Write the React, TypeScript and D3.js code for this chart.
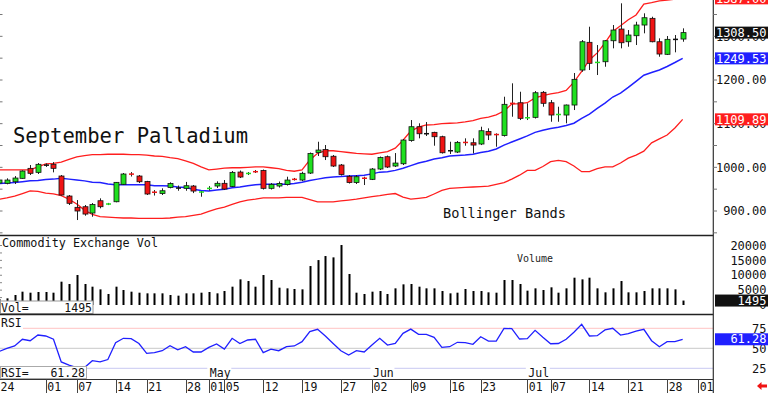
import React from 'react';
import * as d3 from 'd3';

// trading calendar: weekdays from Mar 24 to Aug 1 2025, exchange holidays removed
const holidays = ['2025-04-18', '2025-05-26', '2025-06-19', '2025-07-04'];
const firstDay = '2025-03-24';
const lastAxisDay = '2025-08-01';

const tickDays = [
  '2025-03-24', '2025-04-01', '2025-04-07', '2025-04-14', '2025-04-21', '2025-04-28',
  '2025-05-01', '2025-05-05', '2025-05-12', '2025-05-19', '2025-05-27', '2025-06-02',
  '2025-06-09', '2025-06-16', '2025-06-23', '2025-07-01', '2025-07-07', '2025-07-14',
  '2025-07-21', '2025-07-28', '2025-08-01',
];
const monthDays = ['2025-05-01', '2025-06-02', '2025-07-01'];
const monthNames = ['May', 'Jun', 'Jul'];

const open = [964, 963.4, 967, 974.8, 997.7, 988.5, 1005, 1006.9, 980.1, 934.3,
  908.4, 909.8, 895.3, 923.5, 915, 921.2, 961.1, 985, 980.1, 967.5,
  943.5, 940, 953.7, 952.5, 951.9, 957.2, 943, 951, 957.2, 963.4,
  956, 989.2, 985.5, 990.5, 992.7, 951.9, 957.2, 960.6, 973, 970.9,
  986.9, 1033.9, 1040.8, 1025.4, 1005.3, 979.4, 965.2, 975.5, 972.5, 996.1,
  1024.3, 1003, 1008.2, 1061.4, 1093, 1077, 1080.1, 1070.1, 1038, 1035,
  1057.5, 1056.3, 1053.4, 1082, 1075.6, 1072.8, 1147, 1147.9, 1113, 1114.5,
  1171.8, 1147.9, 1120.5, 1119.8, 1142.7, 1222.8, 1286.3, 1239.5, 1241.8, 1289.9,
  1316.7, 1287.6, 1301.4, 1325.9, 1341.2, 1287.6, 1258.8, 1293, 1293.8];

const high = [975, 974.8, 980, 993, 1005.3, 1009.8, 1009, 1012, 982.4, 936.6,
  925.1, 913.7, 918.2, 929, 918.5, 966.3, 987, 989.2, 982.4, 969,
  948, 951.9, 965.6, 958.3, 966.6, 959.5, 945.7, 957, 968, 970.9,
  991.5, 992.7, 989.2, 993.8, 994.9, 964, 967.5, 978.5, 975.7, 989.9,
  1033.9, 1058.6, 1051.1, 1028.2, 1007.6, 982.4, 982.4, 978.5, 998.4, 1024.7,
  1027, 1032.7, 1064.8, 1108.3, 1100.8, 1103.7, 1081.5, 1072.4, 1058.6, 1060.2,
  1066.4, 1066.4, 1093, 1089.3, 1077.9, 1161.7, 1192.4, 1173.1, 1146.6, 1174.7,
  1174.7, 1154.1, 1138.8, 1143.8, 1216, 1291.5, 1322, 1280.1, 1291.5, 1325.9,
  1375.6, 1314.4, 1333.4, 1352.7, 1344.9, 1295.4, 1300.7, 1303, 1318.3];

const low = [960, 961.1, 961.8, 974, 982.4, 984.7, 1001, 988.5, 935.4, 913.7,
  879.3, 889.2, 886.9, 906.1, 913.5, 919.9, 959.5, 979, 964, 936.6,
  935.4, 936.6, 951.9, 946.4, 946.4, 941, 932.7, 946.8, 952.6, 948,
  954.9, 975.5, 982.4, 987, 949.2, 949.2, 953.7, 958.3, 969.8, 968.6,
  984.7, 1025.9, 1016.7, 1000.7, 981.2, 962.9, 961.8, 959.5, 970.9, 993.8,
  998.4, 1000.7, 1005.3, 1058.6, 1066.4, 1071.7, 1049.5, 1031.6, 1030.5, 1032.7,
  1049.5, 1032, 1051, 1062.5, 1047.2, 1070.5, 1115.9, 1108.3, 1108.3, 1111.8,
  1138.8, 1104.4, 1104.4, 1100.8, 1131.2, 1218.9, 1222.8, 1211.4, 1230.4, 1272.5,
  1272.5, 1276.2, 1280.1, 1306.9, 1286.3, 1253.3, 1257.2, 1263.4, 1287.6];

const close = [971, 970.9, 975.5, 991.5, 986.3, 1006.9, 1005, 997.7, 936.6, 917.6,
  900, 893, 914.8, 909.8, 917, 965.6, 984.7, 984, 967, 938.9,
  942.5, 946.4, 962.9, 952.5, 957.9, 945.7, 944, 952.5, 963.4, 950.3,
  988.5, 977.8, 986.5, 989.5, 951.9, 961.1, 962.9, 970.9, 972, 986.3,
  1031.6, 1039.6, 1024.3, 1003, 983.5, 965.2, 978.5, 974.5, 996.1, 1022.4,
  1000.7, 1009.8, 1062.5, 1093, 1076.9, 1077, 1070.1, 1033.4, 1038, 1057.2,
  1056.5, 1051, 1083.8, 1074, 1074.5, 1144.3, 1146, 1112.2, 1114, 1170.8,
  1146.6, 1119.8, 1121.5, 1142.7, 1201.5, 1287.6, 1238.2, 1241, 1289.9, 1314.4,
  1285.3, 1303, 1325.9, 1342.6, 1287.6, 1259.5, 1293.1, 1293, 1308.5];

const bbUpper = [994, 994, 994, 994, 994, 1001, 1008, 1009, 1012, 1018,
  1024, 1027, 1029, 1029, 1030, 1030, 1030, 1029, 1029, 1028,
  1026, 1025, 1022, 1020, 1015, 1009, 1001, 994, 996, 998,
  999, 999, 1000, 1001, 1001, 999, 997, 993, 991, 994,
  1017, 1032, 1038, 1038, 1036, 1034, 1032, 1031, 1030, 1033,
  1036, 1044, 1062, 1083, 1092, 1097, 1098, 1100, 1101, 1102,
  1104, 1107, 1112, 1115, 1120, 1129, 1145, 1146, 1148, 1159,
  1164, 1168, 1171, 1176, 1195, 1220, 1246, 1262, 1285, 1311,
  1324, 1338, 1349, 1374, 1377, 1381, 1383, 1385, 1387];

const bbMiddle = [963, 964, 965, 967, 969, 970, 972, 973, 975, 973,
  971, 969, 966, 965, 962, 960, 960, 960, 960, 960,
  958, 958, 957, 955, 954, 950, 947, 946, 948, 950,
  953, 955, 958, 960, 961, 961, 961, 961, 963, 966,
  970, 973, 976, 978, 979, 980, 981, 982, 985, 989,
  990, 993, 998, 1004, 1010, 1014, 1019, 1022, 1026, 1027,
  1028, 1030, 1034, 1037, 1042, 1051, 1058, 1065, 1072, 1080,
  1085, 1089, 1092, 1096, 1101, 1112, 1122, 1135, 1147, 1161,
  1170, 1183, 1197, 1211, 1217, 1223, 1231, 1240, 1249.53];

const bbLower = [927, 930, 934, 940, 946, 945, 941, 939, 935, 927,
  916, 902, 892, 887, 886, 885, 884, 884, 883, 883,
  883, 883, 884, 886, 887, 890, 893, 899, 905, 909,
  915, 921, 925, 927, 930, 930, 930, 931, 931, 931,
  926, 921, 921, 921, 923, 925, 927, 930, 933, 935,
  938, 940, 932, 927, 929, 931, 939, 947, 952, 953,
  954, 955, 956, 957, 961, 965, 973, 982, 993, 993,
  1002, 1013, 1016, 1013, 1003, 990, 990, 997, 1001, 1001,
  1010, 1021, 1028, 1037, 1056, 1065, 1074, 1090, 1109.89];

const volume = [2000, 2240, 3360, 4480, 4140, 4370, 4370, 4140, 7840, 7060,
  10080, 7060, 6160, 5260, 3700, 6160, 5040, 4480, 4140, 3920,
  3920, 3920, 3360, 3140, 3920, 3920, 4140, 4370, 3920, 4700,
  6160, 8620, 8060, 6160, 10080, 8400, 5820, 5600, 5380, 5260,
  13100, 15100, 16460, 16010, 20160, 10420, 4140, 3700, 4480, 4700,
  3700, 5600, 6940, 7060, 6160, 5600, 5600, 4700, 3920, 4140,
  5380, 4700, 4700, 4260, 4140, 8400, 8400, 7060, 4820, 5600,
  5040, 5940, 4140, 5600, 9180, 8620, 9180, 5600, 4260, 5600,
  8060, 4260, 4260, 4700, 5600, 5600, 5600, 5260, 1495];

const rsi = [46, 50, 52.9, 61.3, 59.5, 66.6, 65.4, 61.3, 33, 29,
  26, 26, 34.5, 33, 36, 57, 62.5, 62, 56, 43.7,
  44.5, 47, 53.3, 48, 52, 45.4, 45.4, 51.2, 55.4, 49,
  62.5, 56, 60.4, 61.3, 44.5, 49, 47, 52, 52.9, 58.3,
  70.8, 73.7, 65.4, 56, 47, 41.6, 47, 45.4, 54, 62.5,
  54, 56, 68.7, 74, 67.5, 67.5, 63.7, 51.2, 52, 57.5,
  57, 55, 64.5, 59, 59, 75, 74.5, 61.6, 62, 72.5,
  63.7, 55.7, 56, 61.3, 70, 80, 65.4, 65.8, 72.9, 75,
  66.6, 68.3, 71.6, 73.7, 59.5, 52, 58.3, 58.3, 61.28];

const priceLabels = [900, 1000, 1100, 1200, 1300];
const volumeLabels = [0, 5000, 10000, 15000, 20000];
const rsiLabels = [25, 50, 75];

const GREEN = '#1fe01f';
const RED = '#f01414';
const BLUE = '#2020ff';
const BAND_RED = '#ff1e1e';
const FONT = '"DejaVu Sans Mono", monospace';

const fmtDay = d3.timeFormat('%Y-%m-%d');
const parseDay = d3.timeParse('%Y-%m-%d');
const tradingDays = d3.timeDay
  .range(parseDay(firstDay), d3.timeDay.offset(parseDay(lastAxisDay), 1))
  .filter((d) => d.getDay() !== 0 && d.getDay() !== 6 && !holidays.includes(fmtDay(d)));
const dayIndex = (s: string) => tradingDays.findIndex((d) => fmtDay(d) === s);

const W = 768;
const H = 393;
const PLOT_R = 713.3;

function ValueBox({ y, text, fill }) {
  return (
    <g>
      <rect x={715} y={y - 6} width={53} height={12} fill={fill} />
      <text x={766.5} y={y + 4.2} textAnchor="end" fill="#fff" fontSize={12}>{text}</text>
    </g>
  );
}

export default function App() {
  const x = d3.scaleLinear().domain([0, tradingDays.length - 1]).range([-0.9, 698.2]);
  const yP = d3.scaleLinear().domain([900, 1200]).range([211, 80]);
  const yV = d3.scaleLinear().domain([0, 20000]).range([305, 245.5]);
  const yR = d3.scaleLinear().domain([0, 100]).range([388.3, 308.3]);

  const priceLine = d3.line<number>().x((_, i) => x(i)).y((v) => yP(v));
  const rsiLine = d3.line<number>().x((_, i) => x(i)).y((v) => yR(v));
  const f2 = d3.format('.2f');
  const last = close.length - 1;

  const priceTicks = d3.range(850, 1400, 50);
  const volTicks = d3.range(2500, 22500, 2500);

  return (
    <div style={{ position: 'absolute', left: 0, top: 0 }}>
      <svg width={W} height={H} style={{ display: 'block', background: '#fff' }} fontFamily={FONT}>
        <defs>
          <clipPath id="main-clip"><rect x={0} y={0} width={PLOT_R} height={235} /></clipPath>
          <clipPath id="vol-clip"><rect x={0} y={236} width={PLOT_R} height={78} /></clipPath>
          <clipPath id="rsi-clip"><rect x={0} y={315} width={PLOT_R} height={64} /></clipPath>
        </defs>

        {/* price panel */}
        <g clipPath="url(#main-clip)">
          {priceTicks.map((p) => (
            <line key={p} x1={0} x2={2.5} y1={yP(p)} y2={yP(p)} stroke="#777" />
          ))}
          <path d={priceLine(bbUpper)} fill="none" stroke={BAND_RED} strokeWidth={1.3} />
          <path d={priceLine(bbLower)} fill="none" stroke={BAND_RED} strokeWidth={1.3} />
          <path d={priceLine(bbMiddle)} fill="none" stroke={BLUE} strokeWidth={1.5} />
          {close.map((c, i) => {
            const o = open[i];
            const cx = Math.round(x(i)) + 0.5;
            const top = yP(Math.max(o, c));
            const bot = yP(Math.min(o, c));
            const color = o === c ? '#111' : c > o ? GREEN : RED;
            return (
              <g key={i}>
                <line x1={cx} x2={cx} y1={yP(high[i])} y2={yP(low[i])} stroke="#222" />
                {bot - top < 1.6 ? (
                  <rect x={cx - 2.5} y={(top + bot) / 2 - 0.75} width={5} height={1.5} fill={color} />
                ) : (
                  <rect x={cx - 2.5} y={top} width={5} height={bot - top} fill={color} stroke="#111" strokeWidth={0.8} />
                )}
              </g>
            );
          })}
        </g>
        <text x={13} y={143} fontSize={20.5} textLength={235} lengthAdjust="spacingAndGlyphs" fill="#111">September Palladium</text>
        <text x={443} y={218} fontSize={13.5} textLength={123} lengthAdjust="spacingAndGlyphs" fill="#111">Bollinger Bands</text>

        {/* volume panel */}
        <g clipPath="url(#vol-clip)">
          {volTicks.map((v) => (
            <line key={v} x1={0} x2={2} y1={yV(v)} y2={yV(v)} stroke="#888" />
          ))}
          {volume.map((v, i) => (
            <rect key={i} x={Math.round(x(i)) - 0.5} y={yV(v)} width={2} height={yV(0) - yV(v)} fill="#000" />
          ))}
        </g>
        <text x={2} y={246.5} fontSize={11.8} textLength={156} lengthAdjust="spacingAndGlyphs" fill="#111">Commodity Exchange Vol</text>
        <text x={517} y={262} fontSize={10} textLength={36} lengthAdjust="spacingAndGlyphs" fill="#222">Volume</text>
        <rect x={0.5} y={301} width={92.5} height={12.5} fill="#fff" stroke="#999" />
        <text x={1} y={311.5} fontSize={11.5} fill="#111">Vol=</text>
        <text x={92} y={311.5} fontSize={11.5} fill="#111" textAnchor="end">{volume[last]}</text>

        {/* RSI panel */}
        <g clipPath="url(#rsi-clip)">
          <line x1={23} x2={PLOT_R} y1={yR(75)} y2={yR(75)} stroke="#ffc4c4" />
          <line x1={0} x2={PLOT_R} y1={yR(50)} y2={yR(50)} stroke="#c8c8c8" />
          <line x1={86} x2={PLOT_R} y1={yR(25)} y2={yR(25)} stroke="#c9c9f2" />
          <path d={rsiLine(rsi)} fill="none" stroke={BLUE} strokeWidth={1.3} />
        </g>
        <text x={1} y={326.5} fontSize={11.5} fill="#111">RSI</text>
        {monthDays.map((d, k) => {
          const tx = x(dayIndex(d));
          return (
            <g key={d}>
              <rect x={tx - 1.5} y={366} width={24} height={12.5} fill="#fff" />
              <text x={tx + 1} y={377} fontSize={11.5} fill="#111">{monthNames[k]}</text>
            </g>
          );
        })}
        <rect x={0.5} y={366.5} width={86} height={12} fill="#fff" stroke="#aaa" />
        <text x={1} y={377} fontSize={11.5} fill="#111">RSI=</text>
        <text x={85} y={377} fontSize={11.5} fill="#111" textAnchor="end">{f2(rsi[last])}</text>

        {/* frame */}
        <line x1={0} x2={PLOT_R} y1={235.5} y2={235.5} stroke="#222" strokeWidth={1.5} />
        <line x1={0} x2={PLOT_R} y1={314.5} y2={314.5} stroke="#222" strokeWidth={1.5} />
        <line x1={0} x2={PLOT_R} y1={379.5} y2={379.5} stroke="#333" />
        <line x1={PLOT_R} x2={PLOT_R} y1={0} y2={H} stroke="#333" strokeWidth={1.2} />

        {/* date axis */}
        {tickDays.map((d) => {
          const tx = x(dayIndex(d));
          return (
            <g key={d}>
              <line x1={Math.round(tx) + 0.5} x2={Math.round(tx) + 0.5} y1={379.5} y2={H} stroke="#444" />
              <text x={tx + 1.5} y={390.5} fontSize={11.5} fill="#111">{d.slice(8)}</text>
            </g>
          );
        })}

        {/* right axis */}
        {priceTicks.map((p) => (
          <line key={p} x1={PLOT_R} x2={717} y1={yP(p)} y2={yP(p)} stroke="#777" />
        ))}
        {priceLabels.map((p) => (
          <text key={p} x={766.5} y={yP(p) + 4.2} textAnchor="end" fontSize={12} fill="#111">{f2(p)}</text>
        ))}
        {volumeLabels.map((v) => (
          <text key={v} x={766.5} y={yV(v) + 4.2} textAnchor="end" fontSize={12} fill="#111">{v}</text>
        ))}
        {rsiLabels.map((v) => (
          <text key={v} x={766.5} y={yR(v) + 4.2} textAnchor="end" fontSize={12} fill="#111">{v}</text>
        ))}
        <ValueBox y={yP(bbUpper[last])} text={f2(bbUpper[last])} fill={BAND_RED} />
        <ValueBox y={yP(close[last])} text={f2(close[last])} fill="#111" />
        <ValueBox y={yP(bbMiddle[last])} text={f2(bbMiddle[last])} fill={BLUE} />
        <ValueBox y={yP(bbLower[last])} text={f2(bbLower[last])} fill={BAND_RED} />
        <ValueBox y={yV(volume[last])} text={String(volume[last])} fill="#111" />
        <ValueBox y={yR(rsi[last])} text={f2(rsi[last])} fill={BLUE} />
        <path d="M757,386 L761.5,382 L761.5,384.5 L767,384.5 L767,387.5 L761.5,387.5 L761.5,390 Z" fill={RED} />
      </svg>
    </div>
  );
}
